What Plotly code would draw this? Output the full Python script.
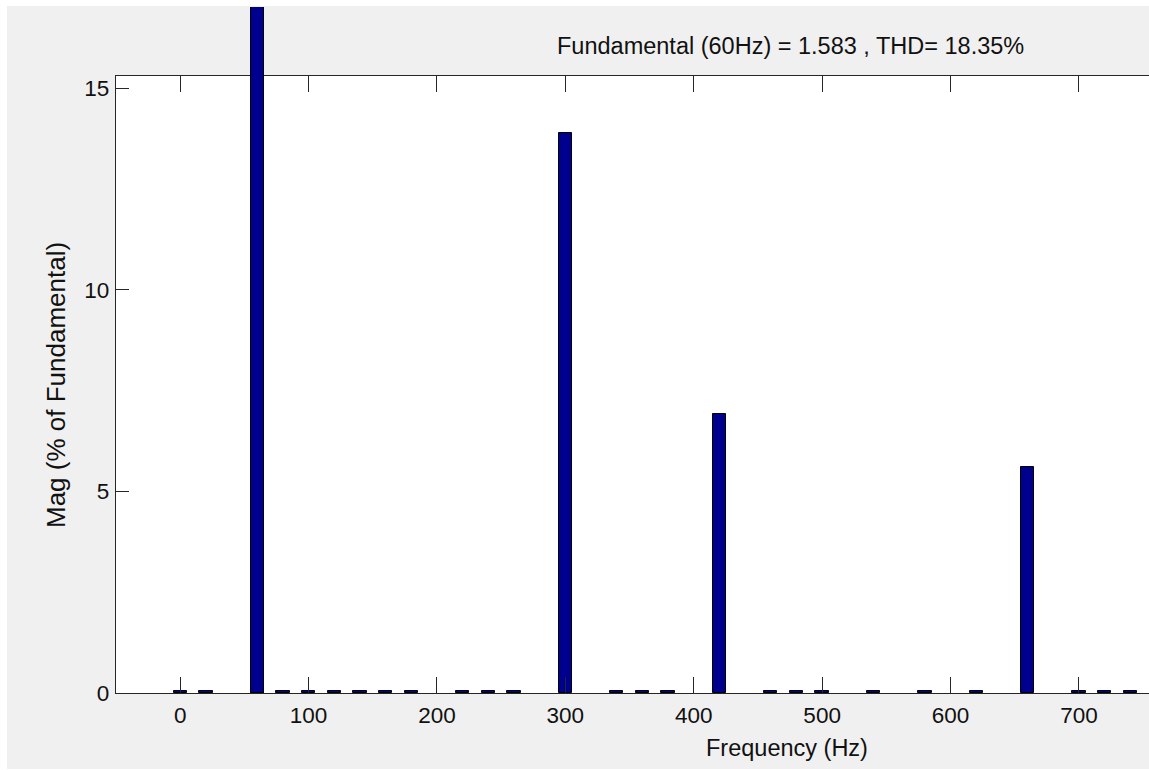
import plotly.graph_objects as go

# ---- data ----
freqs = [0, 20, 60, 80, 100, 120, 140, 160, 180, 220, 240, 260, 300,
         340, 360, 380, 420, 460, 480, 500, 540, 580, 620, 660, 700, 720, 740]
mags = [0.06, 0.06, 100.0, 0.06, 0.06, 0.06, 0.06, 0.06, 0.06, 0.06, 0.06, 0.06, 13.88,
        0.06, 0.06, 0.06, 6.93, 0.06, 0.06, 0.06, 0.06, 0.06, 0.06, 5.60, 0.06, 0.06, 0.06]
x_ticks = [0, 100, 200, 300, 400, 500, 600, 700]
y_ticks = [0, 5, 10, 15]
title_text = "Fundamental (60Hz) = 1.583 , THD= 18.35%"
x_title = "Frequency (Hz)"
y_title = "Mag (% of Fundamental)"

# ---- layout geometry ----
W, H = 1149, 770
ML, MR, MT, MB = 116, 0, 7, 77
PW, PH = W - ML - MR, H - MT - MB
frame_top_px = 76
frame_bottom_px = H - MB
ymax_main = 15.3
px_per_unit = (frame_bottom_px - frame_top_px) / ymax_main
ymax_full = PH / px_per_unit
main_dom_top = (frame_bottom_px - frame_top_px) / PH
xrange = [-50, 754.6]

def px2paper_x(px):
    return (px - ML) / PW

def px2paper_y(py):
    return (frame_bottom_px - py) / PH

FONT = "Liberation Sans, Arial, sans-serif"
TXT = "#111111"
LINE = "#262626"
FS_TICK = 22.5
FS_TITLE = 23.5
FS_YTITLE = 26

bar_fill = "rgb(0,0,143)"

fig = go.Figure()
fig.add_trace(go.Bar(x=freqs, y=mags, width=10.4, xaxis="x", yaxis="y",
                     marker=dict(color=bar_fill, line=dict(color="black", width=1)),
                     showlegend=False, hoverinfo="x+y"))
# portion of tall bars rising above the axes box (drawn on a full-height overlay axis)
tall_f = [f for f, m in zip(freqs, mags) if m > ymax_main]
tall_m = [m for m in mags if m > ymax_main]
fig.add_trace(go.Bar(x=tall_f, y=tall_m, width=10.4, xaxis="x2", yaxis="y2",
                     marker=dict(color=bar_fill, line=dict(color="black", width=1)),
                     showlegend=False, hoverinfo="x+y"))

fig.update_layout(
    width=W, height=H,
    margin=dict(l=ML, r=MR, t=MT, b=MB, pad=0),
    paper_bgcolor="white",
    plot_bgcolor="rgba(0,0,0,0)",
    bargap=0,
    font=dict(family=FONT, size=FS_TICK, color=TXT),
    xaxis=dict(domain=[0, 1], anchor="y", range=xrange, tickvals=x_ticks,
               ticktext=[str(v) for v in x_ticks],
               ticks="inside", ticklen=16, tickwidth=1.3, tickcolor=LINE,
               showline=True, linecolor=LINE, linewidth=1.3, mirror="ticks",
               showgrid=False, zeroline=False, ticklabelstandoff=2,
               tickfont=dict(family=FONT, size=FS_TICK, color=TXT)),
    yaxis=dict(domain=[0, main_dom_top], anchor="x", range=[0, ymax_main],
               tickvals=y_ticks, ticktext=[str(v) for v in y_ticks],
               ticks="inside", ticklen=13, tickwidth=1.3, tickcolor=LINE,
               showline=True, linecolor=LINE, linewidth=1.3, mirror=False,
               showgrid=False, zeroline=False, ticklabelstandoff=1,
               tickfont=dict(family=FONT, size=FS_TICK, color=TXT)),
    xaxis2=dict(domain=[0, 1], anchor="y2", range=xrange, visible=False),
    yaxis2=dict(domain=[0, 1], anchor="x2", range=[0, ymax_full], visible=False),
    shapes=[
        dict(type="rect", xref="paper", yref="paper", layer="below",
             x0=px2paper_x(7), x1=1.05, y0=px2paper_y(769), y1=px2paper_y(6),
             fillcolor="#f0f0f0", line=dict(width=0)),
        dict(type="rect", xref="paper", yref="paper", layer="below",
             x0=0, x1=1.05, y0=0, y1=main_dom_top,
             fillcolor="white", line=dict(width=0)),
    ],
    annotations=[
        dict(text=title_text, xref="paper", yref="paper",
             x=px2paper_x(790), y=px2paper_y(46), xanchor="center", yanchor="middle",
             showarrow=False, font=dict(family=FONT, size=FS_TITLE, color=TXT)),
        dict(text=x_title, xref="paper", yref="paper",
             x=px2paper_x(787), y=px2paper_y(748), xanchor="center", yanchor="middle",
             showarrow=False, font=dict(family=FONT, size=FS_TITLE, color=TXT)),
        dict(text=y_title, xref="paper", yref="paper", textangle=-90,
             x=px2paper_x(56), y=px2paper_y(385), xanchor="center", yanchor="middle",
             showarrow=False, font=dict(family=FONT, size=FS_YTITLE, color=TXT)),
    ],
)

fig.write_html("out.html",
               config={"displayModeBar": False},
               post_script="document.body.style.margin='0px';document.body.style.overflow='hidden';")
